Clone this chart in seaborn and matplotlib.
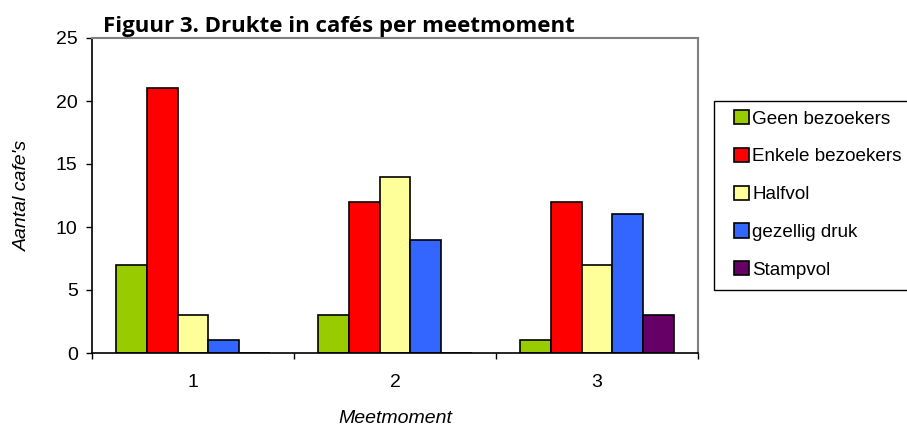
import matplotlib
matplotlib.use("Agg")
import matplotlib.pyplot as plt
import seaborn as sns
import pandas as pd
from matplotlib.patches import Patch, Rectangle
from matplotlib.ticker import FixedLocator

categories = ["1", "2", "3"]
series = ["Geen bezoekers", "Enkele bezoekers", "Halfvol", "gezellig druk", "Stampvol"]
geen = [7, 3, 1]
enkele = [21, 12, 12]
halfvol = [3, 14, 7]
gezellig = [1, 9, 11]
stampvol = [0, 0, 3]
colors = ["#99CC00", "#FF0000", "#FFFF99", "#3366FF", "#660066"]
yticks = [0, 5, 10, 15, 20, 25]

values = [geen, enkele, halfvol, gezellig, stampvol]
rows = []
for s, vals in zip(series, values):
    for c, v in zip(categories, vals):
        rows.append({"Meetmoment": c, "Serie": s, "Aantal": v})
df = pd.DataFrame(rows)

sns.set_theme(style="white")
plt.rcParams["font.family"] = ["Liberation Sans", "DejaVu Sans"]

FS = 14

fig = plt.figure(figsize=(9.07, 4.28), dpi=100)
ax = fig.add_axes([92/907, 1-353/428, 606/907, 315/428])

sns.barplot(data=df, x="Meetmoment", y="Aantal", hue="Serie",
            order=categories, hue_order=series, palette=colors,
            width=0.767, gap=0, edgecolor="black", linewidth=1.2,
            saturation=1, errorbar=None, legend=False, ax=ax)

ax.set_xlim(-0.5, 2.5)
ax.set_ylim(0, 25)
ax.set_yticks(yticks)
ax.tick_params(axis="y", direction="out", length=4.3, width=1, color="black",
               labelsize=FS, labelcolor="black", pad=6, left=True)
ax.tick_params(axis="x", which="major", length=0, labelsize=FS,
               labelcolor="black", pad=15)
ax.xaxis.set_minor_locator(FixedLocator([-0.5, 0.5, 1.5, 2.5]))
ax.tick_params(axis="x", which="minor", direction="out", length=4.3, width=1,
               color="black", bottom=True)

for side in ["left", "bottom"]:
    ax.spines[side].set_color("black")
    ax.spines[side].set_linewidth(1.2)
for side in ["top", "right"]:
    ax.spines[side].set_color("#808080")
    ax.spines[side].set_linewidth(1.5)
    ax.spines[side].set_visible(True)

ax.set_xlabel("Meetmoment", fontsize=FS, style="italic", color="black")
ax.set_ylabel("Aantal cafe's", fontsize=FS, style="italic", color="black")
ax.xaxis.set_label_coords(0.5, -0.182)
ax.yaxis.set_label_coords(-0.100, 0.5)

fig.text(103/907, 1-32/428, "Figuur 3. Drukte in cafés per meetmoment",
         fontsize=16, fontweight="bold", family=["Open Sans", "DejaVu Sans"],
         ha="left", va="baseline", color="black")

# legend frame (extends past the right edge like the reference)
fig.patches.append(Rectangle((714/907, 1-290/428), 200/907, 189/428,
                             transform=fig.transFigure, facecolor="white",
                             edgecolor="black", linewidth=1.0, zorder=1))

handles = [Patch(facecolor=c, edgecolor="black", linewidth=1.2) for c in colors]
leg = fig.legend(handles, series, loc="upper left",
                 bbox_to_anchor=(734/907, 1-110/428),
                 fontsize=13.6, frameon=False, borderaxespad=0, borderpad=0,
                 handlelength=0.77, handleheight=0.77, handletextpad=0.2,
                 labelspacing=1.07, labelcolor="black")
leg.set_zorder(2)

fig.savefig("out.png", dpi=100)
